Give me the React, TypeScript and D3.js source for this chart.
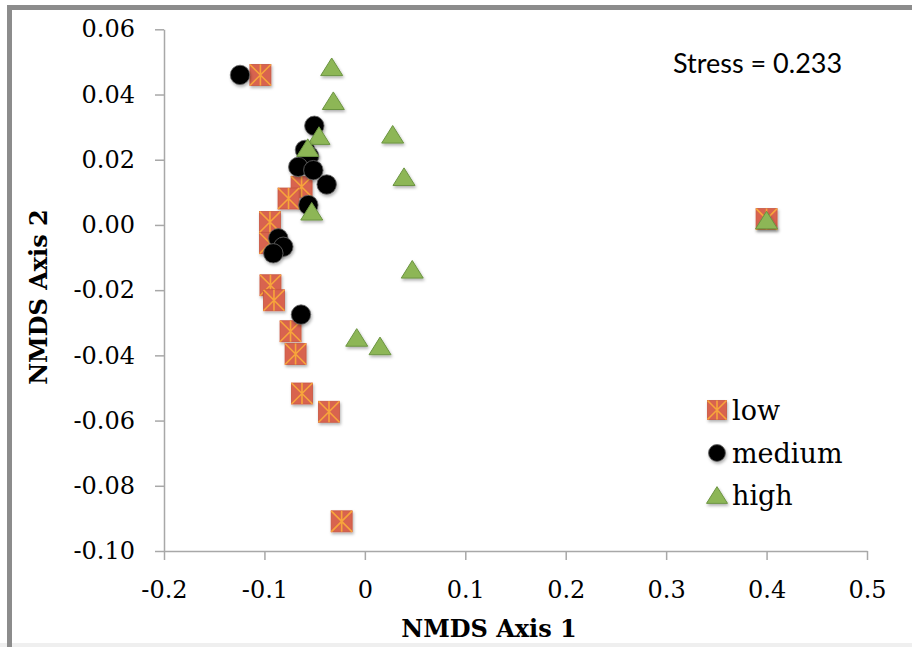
import React, { useEffect, useRef } from "react";
import * as d3 from "d3";

// NMDS ordination scores
const lowX = [-0.104, -0.063, -0.076, -0.0945, -0.0945, -0.094, -0.0905, -0.074, -0.069, -0.0626, -0.0357, -0.0231, 0.4];
const lowY = [0.046, 0.0117, 0.0081, 0.0009, -0.0056, -0.0185, -0.0231, -0.0326, -0.0396, -0.0517, -0.0573, -0.0909, 0.0018];

const mediumX = [-0.1243, -0.0503, -0.0596, -0.0556, -0.0663, -0.0513, -0.038, -0.0563, -0.0862, -0.0812, -0.0912, -0.0636];
const mediumY = [0.046, 0.0304, 0.023, 0.0211, 0.0178, 0.0168, 0.0124, 0.0061, -0.0041, -0.0067, -0.0087, -0.0275];

const highX = [-0.033, -0.0314, -0.0457, -0.0569, 0.0277, 0.039, -0.0529, 0.0472, -0.0081, 0.0151, 0.4];
const highY = [0.0485, 0.0381, 0.0274, 0.0237, 0.0278, 0.0148, 0.0042, -0.0136, -0.0345, -0.0371, 0.0015];

const xTicks = [-0.2, -0.1, 0, 0.1, 0.2, 0.3, 0.4, 0.5];
const xTickLabels = ["-0.2", "-0.1", "0", "0.1", "0.2", "0.3", "0.4", "0.5"];
const yTicks = [0.06, 0.04, 0.02, 0.0, -0.02, -0.04, -0.06, -0.08, -0.1];
const yTickLabels = ["0.06", "0.04", "0.02", "0.00", "-0.02", "-0.04", "-0.06", "-0.08", "-0.10"];

const groups = ["low", "medium", "high"];
const stressLabel = "Stress = 0.233";

const SERIF = "'DejaVu Serif', serif";

export default function App() {
	const ref = useRef<SVGSVGElement>(null);

	useEffect(() => {
		const w = 912;
		const h = 647;
		const left = 164;
		const right = 867;
		const top = 29.3;
		const bottom = 551;

		const svg = d3.select(ref.current);
		svg.selectAll("*").remove();

		svg.append("rect").attr("width", w).attr("height", h).attr("fill", "#fff");

		// shadow for markers
		const defs = svg.append("defs");
		defs
			.append("filter")
			.attr("id", "shadow")
			.attr("x", "-50%")
			.attr("y", "-50%")
			.attr("width", "200%")
			.attr("height", "200%")
			.append("feDropShadow")
			.attr("dx", 1)
			.attr("dy", 2)
			.attr("stdDeviation", 1.4)
			.attr("flood-color", "#000")
			.attr("flood-opacity", 0.3);

		// frame
		svg.append("rect").attr("x", 0).attr("y", 643).attr("width", w).attr("height", 4).attr("fill", "#efefef");
		svg.append("line").attr("x1", 7).attr("x2", w).attr("y1", 7.5).attr("y2", 7.5).attr("stroke", "#8c8c8c").attr("stroke-width", 5);
		svg.append("line").attr("x1", 9.5).attr("x2", 9.5).attr("y1", 5).attr("y2", h).attr("stroke", "#8c8c8c").attr("stroke-width", 5);

		// Scales
		const xScale = d3.scaleLinear().domain([-0.2, 0.5]).range([left, right]);
		const yScale = d3.scaleLinear().domain([-0.1, 0.06]).range([bottom, top]);

		// x-axis
		const xAxis = d3
			.axisBottom(xScale)
			.tickValues(xTicks)
			.tickFormat((d, i) => xTickLabels[i])
			.tickSize(9)
			.tickSizeOuter(0)
			.tickPadding(21);
		const gx = svg.append("g").attr("transform", `translate(0, ${bottom})`).call(xAxis);

		// y-axis
		const yAxis = d3
			.axisLeft(yScale)
			.tickValues(yTicks)
			.tickFormat((d, i) => yTickLabels[i])
			.tickSize(9)
			.tickSizeOuter(0)
			.tickPadding(20);
		const gy = svg.append("g").attr("transform", `translate(${left}, 0)`).call(yAxis);

		[gx, gy].forEach(g => {
			g.select(".domain").attr("stroke", "#a8a8a8").attr("stroke-width", 1.5);
			g.selectAll(".tick line").attr("stroke", "#a8a8a8").attr("stroke-width", 1.5);
			g.selectAll(".tick text").attr("fill", "#000").attr("font-family", SERIF).attr("font-size", 24);
		});

		// Axis titles
		svg
			.append("text")
			.attr("x", 489)
			.attr("y", 637)
			.attr("text-anchor", "middle")
			.attr("font-family", SERIF)
			.attr("font-weight", "bold")
			.attr("font-size", 24)
			.text("NMDS Axis 1");

		svg
			.append("text")
			.attr("transform", "translate(47, 297) rotate(-90)")
			.attr("text-anchor", "middle")
			.attr("font-family", SERIF)
			.attr("font-weight", "bold")
			.attr("font-size", 24)
			.text("NMDS Axis 2");

		// Stress
		svg
			.append("text")
			.attr("x", 673)
			.attr("y", 73)
			.attr("font-family", "Lato, sans-serif")
			.attr("font-size", 27)
			.text(stressLabel);

		// marker drawers
		const drawSquare = (g: any, s: number) => {
			const hs = s / 2;
			g.append("rect")
				.attr("x", -hs)
				.attr("y", -hs)
				.attr("width", s)
				.attr("height", s)
				.attr("fill", "#d8644f")
				.attr("stroke", "#c9553f")
				.attr("stroke-width", 0.8);
			const star = `M0,${-hs}L0,${hs}M${-hs},${-hs}L${hs},${hs}M${hs},${-hs}L${-hs},${hs}`;
			g.append("path").attr("d", star).attr("stroke", "#f7a53b").attr("stroke-width", 1.6).attr("fill", "none");
		};
		const drawCircle = (g: any, s: number) => {
			g.append("circle").attr("r", s / 2).attr("fill", "#050505").attr("stroke", "#666").attr("stroke-width", 0.8);
		};
		const drawTriangle = (g: any, s: number) => {
			const hw = s / 2 + 1;
			const hh = s * 0.44;
			g.append("path")
				.attr("d", `M0,${-hh}L${hw},${hh}L${-hw},${hh}Z`)
				.attr("fill", "#8db657")
				.attr("stroke", "#6b9440")
				.attr("stroke-width", 1);
		};

		const series = [
			{ xs: lowX, ys: lowY, draw: drawSquare, size: 21 },
			{ xs: mediumX, ys: mediumY, draw: drawCircle, size: 19.5 },
			{ xs: highX, ys: highY, draw: drawTriangle, size: 20 }
		];

		series.forEach(s => {
			s.xs.forEach((xv, i) => {
				const g = svg
					.append("g")
					.attr("transform", `translate(${xScale(xv)}, ${yScale(s.ys[i])})`)
					.attr("filter", "url(#shadow)");
				s.draw(g, s.size);
			});
		});

		// Legend
		const legendY = [410, 453, 495];
		series.forEach((s, i) => {
			const g = svg.append("g").attr("transform", `translate(717, ${legendY[i]})`).attr("filter", "url(#shadow)");
			s.draw(g, i === 1 ? 17 : 19);
			svg
				.append("text")
				.attr("x", 732)
				.attr("y", legendY[i] + 10)
				.attr("font-family", SERIF)
				.attr("font-size", 27)
				.text(groups[i]);
		});
	}, []);

	return <svg ref={ref} width={912} height={647} style={{ position: "absolute", left: 0, top: 0 }}></svg>;
}
